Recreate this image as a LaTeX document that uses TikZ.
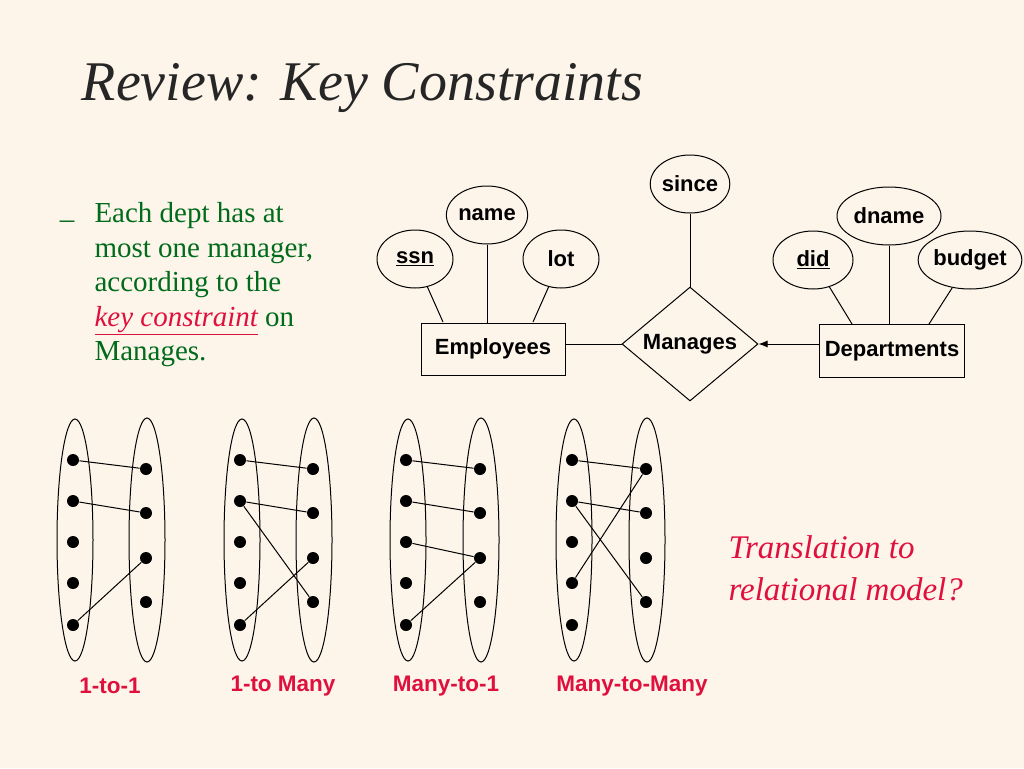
\documentclass[tikz,border=0pt]{standalone}
\usepackage{fontspec}
\setmainfont{Liberation Serif}
\setsansfont{Liberation Sans}
\usetikzlibrary{shapes.geometric,positioning,arrows.meta}
\definecolor{bg}{HTML}{FDF5EA}
\definecolor{txtgreen}{HTML}{006B1B}
\definecolor{txtred}{HTML}{E0103E}
\tikzset{
  attr/.style={draw,ellipse,minimum width=76pt,minimum height=58pt,inner sep=0pt,font=\sffamily\bfseries\fontsize{22}{22}\selectfont},
  entity/.style={draw,rectangle,minimum width=144pt,minimum height=52pt,font=\sffamily\bfseries\fontsize{22}{22}\selectfont},
  rel/.style={draw,diamond,minimum width=136pt,minimum height=104pt,inner sep=0pt,font=\sffamily\bfseries\fontsize{22}{22}\selectfont},
  dot/.style={circle,fill,inner sep=0pt,minimum size=12pt},
  kind/.style={text=txtred,font=\sffamily\bfseries\fontsize{22.5}{22.5}\selectfont}
}
\begin{document}
\begin{tikzpicture}[x=1pt,y=-1pt,>={Latex[length=9pt,width=7pt]},line width=1pt]
\fill[bg] (0,0) rectangle (1024,768);
\useasboundingbox (0,0) rectangle (1024,768);

\node[anchor=base west,font=\itshape\fontsize{56}{56}\selectfont,text=black!85] (title) at (78,100) {Review: Key Constraints};

\node[anchor=base west,text=txtgreen,font=\fontsize{29}{29}\selectfont] (dash) at (56,228) {–};
\node[anchor=north west,text=txtgreen,align=left,font=\fontsize{29}{34.5}\selectfont,inner sep=0pt] (bullet) at (94,202)
  {Each dept has at\\ most one manager,\\ according to the\\ {\color{txtred}\itshape\underline{key constraint}} on\\ Manages.};

% ER diagram
\node[attr] (ssn) at (415,259) {\underline{ssn}};
\node[attr,minimum width=80pt] (name) at (487,215) {name};
\node[attr] (lot) at (561,259) {lot};
\node[attr,minimum width=66pt] (since) at (690,184) {since};
\node[attr,minimum width=104pt] (dname) at (889,216) {dname};
\node[attr,minimum width=80pt] (did) at (813,260) {\underline{did}};
\node[attr,minimum width=100pt] (budget) at (970,260) {budget};
\node[entity] (emp) at (493,349) {Employees};
\node[entity,minimum width=145pt,minimum height=53pt] (dept) at (892,351) {Departments};
\node[rel] (manages) at (690,344) {Manages};

\draw (ssn) -- (443,322);
\draw (name) -- (name |- emp.north);
\draw (lot) -- (533,322);
\draw (since) -- (manages.north);
\draw (did) -- (852,324);
\draw (dname) -- (dname |- dept.north);
\draw (budget) -- (929,324);
\draw (emp.east |- manages.west) -- (manages.west);
\draw[->] (dept.west |- manages.east) -- (manages.east);

% mapping kinds
\foreach \g/\lx/\rx in {1/73/146,2/240/313,3/406/480,4/572/646}{
  \draw (\lx+2,540) ellipse [x radius=18, y radius=121];
  \draw (\rx+1,540) ellipse [x radius=18, y radius=122];
  \foreach \i/\y in {1/460,2/501,3/542,4/583,5/625}
    \node[dot] (l\g\i) at (\lx,\y) {};
  \foreach \i/\y in {1/469,2/513,3/558,4/602}
    \node[dot] (r\g\i) at (\rx,\y) {};
}
\draw (l11) -- (r11) (l12) -- (r12) (l15) -- (r13);
\draw (l21) -- (r21) (l22) -- (r22) (l22) -- (r24) (l25) -- (r23);
\draw (l31) -- (r31) (l32) -- (r32) (l33) -- (r33) (l35) -- (r33);
\draw (l41) -- (r41) (l42) -- (r42) (l42) -- (r44) (l44) -- (r41);

\node[kind] (k1) at (110,686) {1-to-1};
\node[kind] (k2) at (283,686) {1-to Many};
\node[kind] (k3) at (446,686) {Many-to-1};
\node[kind] (k4) at (632,686) {Many-to-Many};

\node[anchor=north west,align=left,inner sep=0pt,text=txtred,font=\itshape\fontsize{33}{42}\selectfont] (question) at (728,535)
  {Translation to\\ relational model?};
\end{tikzpicture}
\end{document}
